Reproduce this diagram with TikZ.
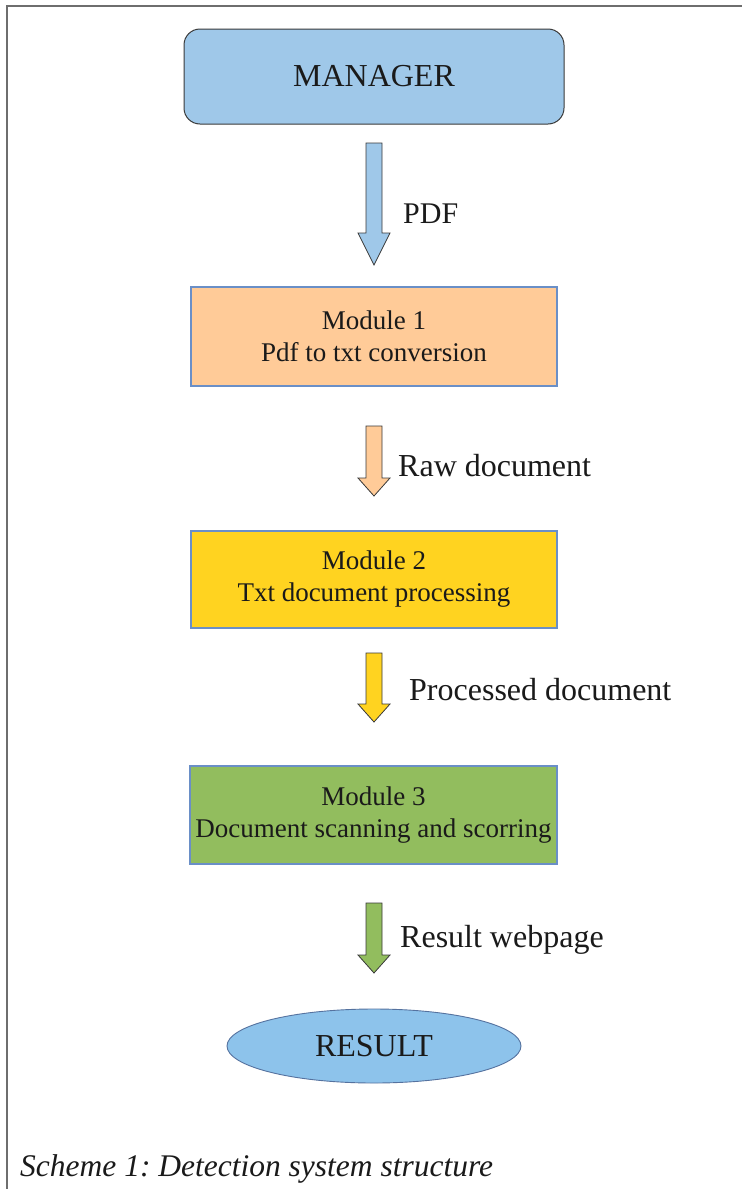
\documentclass[tikz,border=0pt]{standalone}
\usepackage{fontspec}
\setmainfont{Liberation Serif}
\usetikzlibrary{shapes.geometric}
\definecolor{mgrblue}{HTML}{9FC8E9}
\definecolor{peach}{HTML}{FFCB98}
\definecolor{gold}{HTML}{FFD320}
\definecolor{leaf}{HTML}{92BD5E}
\definecolor{resblue}{HTML}{8DC3EB}
\definecolor{boxedge}{HTML}{6A8FC7}
\definecolor{darkedge}{HTML}{3A3A3A}
\definecolor{framegray}{HTML}{6E6E6E}
\definecolor{ink}{HTML}{1A1A1A}
\frenchspacing
\newcommand\blockarrow[5]{% name, top, head base, tip, fill
  \coordinate (#1s) at (374,#2);
  \coordinate (#1e) at (374,#4);
  \draw[arrowshape, fill=#5] (366,#2) -- (382,#2) -- (382,#3) -- (390,#3) -- (#1e) -- (358,#3) -- (366,#3) -- cycle;
}
\begin{document}
\begin{tikzpicture}[x=1pt,y=-1pt,
  modbox/.style={draw=boxedge, line width=1.1pt, minimum width=366pt, align=center,
    font=\fontsize{27}{32}\selectfont, text=ink},
  arrowshape/.style={draw=darkedge, line width=0.8pt, line join=miter},
  flowlabel/.style={anchor=west, font=\fontsize{32}{36}\selectfont, text=ink, inner sep=0pt}
]
\useasboundingbox (0,0) rectangle (742,1189);
\fill[white] (0,0) rectangle (742,1189);
\draw[framegray, line width=1.8pt] (7,1189) -- (7,6) -- (742,6);

\node[draw=darkedge, line width=1pt, fill=mgrblue, rounded corners=16pt,
  minimum width=380pt, minimum height=95pt, font=\fontsize{32}{38}\selectfont, text=ink]
  (mgr) at (374,76.5) {MANAGER};

\node[modbox, fill=peach, minimum height=99pt] (m1) at (374,336.5) {Module 1\\Pdf to txt conversion};
\node[modbox, fill=gold, minimum height=97pt] (m2) at (374,579.5) {Module 2\\Txt document processing};
\node[modbox, fill=leaf, minimum height=98pt, minimum width=367pt] (m3) at (373.5,815) {Module 3\\Document scanning and scorring};

\node[ellipse, draw=boxedge!80!black, line width=0.9pt, fill=resblue, minimum width=294pt, minimum height=74pt,
  font=\fontsize{32}{36}\selectfont, text=ink] (res) at (374,1046) {RESULT};

\blockarrow{a1}{143}{233}{265}{mgrblue}
\blockarrow{a2}{426}{478}{496}{peach}
\blockarrow{a3}{653}{704}{722}{gold}
\blockarrow{a4}{903}{955}{973}{leaf}

\node[flowlabel, font=\fontsize{30}{36}\selectfont] (l1) at (403,214) {PDF};
\node[flowlabel] (l2) at (398,466) {Raw document};
\node[flowlabel] (l3) at (409,690) {Processed document};
\node[flowlabel] (l4) at (400,940) {Result webpage};

\node[anchor=base west, inner sep=0pt, font=\fontsize{31.5}{36}\selectfont\itshape, text=ink]
  (cap) at (20,1176) {Scheme 1: Detection system structure};
\end{tikzpicture}
\end{document}
